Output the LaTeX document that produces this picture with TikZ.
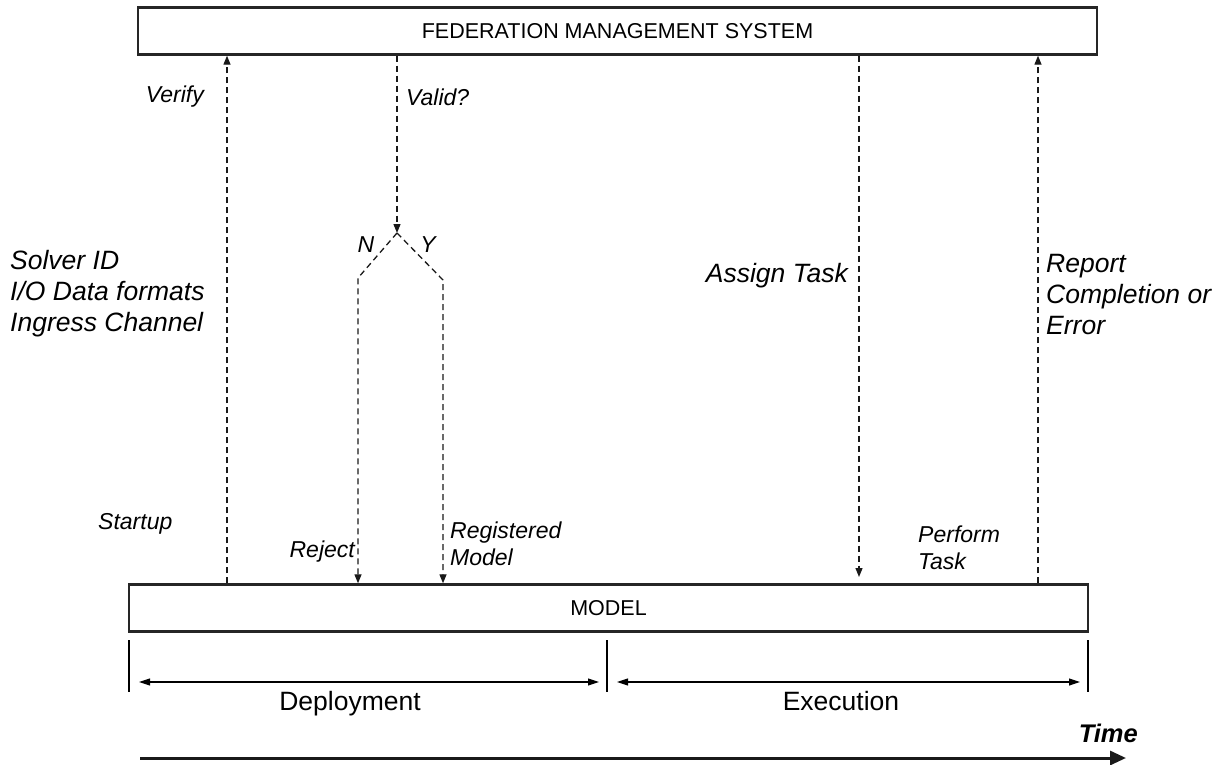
\documentclass[tikz,border=0pt]{standalone}
\usepackage{fontspec}
\setmainfont{Liberation Sans}
\usetikzlibrary{arrows.meta}
\begin{document}
\begin{tikzpicture}[x=1pt,y=-1pt,
  box/.style={draw=black!85, line width=2.4pt, inner sep=0pt, minimum height=47pt,
    font=\fontsize{21.5}{25}\selectfont},
  flow/.style={dash pattern=on 6pt off 4pt, line width=1.3pt, black!90},
  tip/.style={-{Triangle[length=9pt,width=7pt]}},
  small/.style={font=\fontsize{23}{27}\selectfont\itshape, inner sep=0pt},
  big/.style={font=\fontsize{26.5}{31}\selectfont\itshape, inner sep=0pt, align=left},
  phase/.style={font=\fontsize{26.5}{30}\selectfont, inner sep=0pt},
  span/.style={line width=1.1pt, {Triangle[length=11pt,width=7pt]}-{Triangle[length=11pt,width=7pt]}},
  tick/.style={line width=1.1pt},
]
\useasboundingbox (0,0) rectangle (1223,765);

% the two lifelines
\node[box, minimum width=959pt] (fms) at (617.5,31) {FEDERATION MANAGEMENT SYSTEM};
\node[box, minimum width=959pt] (model) at (608.5,608) {MODEL};

% x positions of the message lines
\coordinate (xverify) at (227,0);
\coordinate (xvalid) at (397,0);
\coordinate (xassign) at (859,0);
\coordinate (xreport) at (1038,0);

% validation fork
\coordinate (apex) at (397,233);
\coordinate (nbend) at (358,278);
\coordinate (ybend) at (443,280);
\coordinate (assignend) at (859,577);

% registration request
\draw[flow, tip] (model.north -| xverify) -- (fms.south -| xverify);
% validity check and its two outcomes
\draw[flow, tip] (fms.south -| xvalid) -- (apex);
\draw[flow, tip] (apex) -- (nbend) -- (model.north -| nbend);
\draw[flow, tip] (apex) -- (ybend) -- (model.north -| ybend);
% task assignment and report
\draw[flow, tip] (fms.south -| xassign) -- (assignend);
\draw[flow, tip] (model.north -| xreport) -- (fms.south -| xreport);

% message labels
\node[small, anchor=east] (lverify) at (204,97) {Verify};
\node[small, anchor=west] (lvalid) at (406,97) {Valid?};
\node[small, anchor=center] (ln) at (366,245) {N};
\node[small, anchor=center] (ly) at (428,245) {Y};
\node[big, anchor=west] (lsolver) at (10,294) {Solver ID\\I/O Data formats\\Ingress Channel};
\node[big, anchor=east] (lassign) at (848,276) {Assign Task};
\node[big, anchor=west] (lreport) at (1046,295) {Report\\Completion or\\Error};
\node[small, anchor=west] (lstartup) at (98,524) {Startup};
\node[small, anchor=east] (lreject) at (355,552) {Reject};
\node[small, anchor=west, align=left] (lregistered) at (450,544) {Registered\\Model};
\node[small, anchor=west, align=left] (lperform) at (918,548) {Perform\\Task};

% phase ticks and spans
\draw[tick] (129,640) -- (129,692);
\draw[tick] (607,640) -- (607,692);
\draw[tick] (1088,640) -- (1088,692);
\draw[span] (139,682) -- (599,682);
\draw[span] (617,682) -- (1080,682);
\node[phase] (ldeploy) at (350,704) {Deployment};
\node[phase] (lexec) at (841,701) {Execution};

% time axis
\node[inner sep=0pt, anchor=east, font=\fontsize{25.5}{30}\selectfont\bfseries\itshape] (ltime) at (1138,733) {Time};
\draw[line width=3pt, black!90, -{Triangle[length=16pt,width=14pt]}] (140,758) -- (1126,758);
\end{tikzpicture}
\end{document}
